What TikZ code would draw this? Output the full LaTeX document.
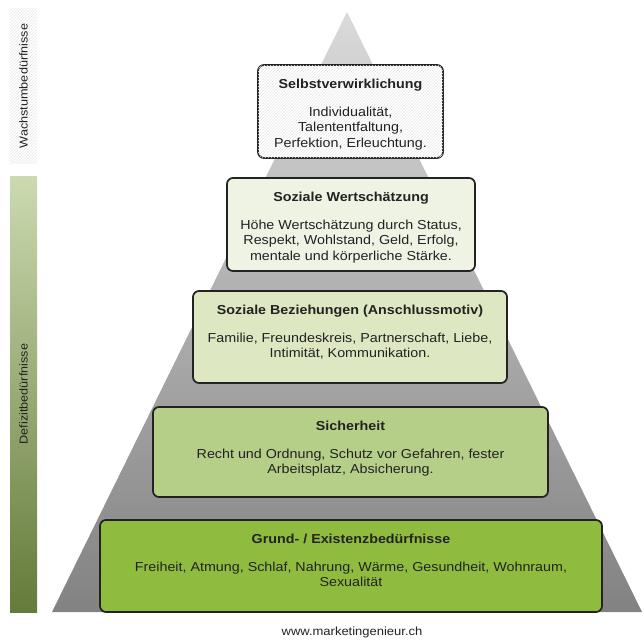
\documentclass[tikz,border=0pt]{standalone}
\usepackage{fontspec}
\setmainfont{Liberation Sans}[FakeStretch=1.1]
\usepackage{tikz}
\usetikzlibrary{positioning,patterns}
\usepackage{xcolor}
\definecolor{pyrtop}{RGB}{218,218,218}
\definecolor{pyrbot}{RGB}{130,130,130}
\definecolor{grundgreen}{RGB}{143,188,62}
\definecolor{sichergreen}{RGB}{182,207,136}
\definecolor{sozialgreen}{RGB}{221,232,194}
\definecolor{wertgreen}{RGB}{239,243,228}
\definecolor{bartop}{RGB}{204,218,176}
\definecolor{barbot}{RGB}{100,123,58}
\definecolor{inkgray}{RGB}{34,34,34}

\begin{document}
\begin{tikzpicture}[x=1pt, y=-1pt,
    needbox/.style={draw=inkgray, line width=1.7pt, rounded corners=6pt},
    needtext/.style={inner sep=0pt, align=center, text=inkgray,
        font=\fontsize{13}{15.5}\selectfont},
    hatched/.style={fill=white, postaction={pattern=north east lines, pattern color=gray!18}},
    barlabel/.style={rotate=90, text=inkgray, font=\fontsize{11.5}{12}\selectfont}]
\useasboundingbox (0,0) rectangle (644,642);

% Pyramid in the background
\shade[top color=pyrtop, bottom color=pyrbot] (52,612) -- (347,12) -- (642,612) -- cycle;

% Side bars
\node[hatched, minimum width=27pt, minimum height=155pt, inner sep=0pt] (wachsbar) at (23.5,86) {};
\node[barlabel] (wachslabel) at (wachsbar.center) {Wachstumbedürfnisse};
\shade[top color=bartop, bottom color=barbot] (10,176) rectangle (37,612);
\coordinate (defizitmid) at (23.5,394);
\node[barlabel] (defizitlabel) at (defizitmid) {Defizitbedürfnisse};

% Levels of the pyramid
\node[needbox, hatched, minimum width=185pt, minimum height=93pt] (selbst) at (350.5,111.5) {};
\node[needtext, below=15pt of selbst.north] (selbsttext)
    {\textbf{Selbstverwirklichung}\\[12pt] Individualität,\\ Talententfaltung,\\ Perfektion, Erleuchtung.};

\node[needbox, fill=wertgreen, minimum width=248pt, minimum height=93pt] (wert) at (351,224.5) {};
\node[needtext, below=15pt of wert.north] (werttext)
    {\textbf{Soziale Wertschätzung}\\[12pt] Höhe Wertschätzung durch Status,\\ Respekt, Wohlstand, Geld, Erfolg,\\ mentale und körperliche Stärke.};

\node[needbox, fill=sozialgreen, minimum width=314pt, minimum height=92pt] (sozial) at (350,337) {};
\node[needtext, below=15pt of sozial.north] (sozialtext)
    {\textbf{Soziale Beziehungen (Anschlussmotiv)}\\[12pt] Familie, Freundeskreis, Partnerschaft, Liebe,\\ Intimität, Kommunikation.};

\node[needbox, fill=sichergreen, minimum width=395pt, minimum height=90pt] (sicher) at (350.5,452) {};
\node[needtext, below=15pt of sicher.north] (sichertext)
    {\textbf{Sicherheit}\\[12pt] Recht und Ordnung, Schutz vor Gefahren, fester\\ Arbeitsplatz, Absicherung.};

\node[needbox, fill=grundgreen, minimum width=502pt, minimum height=92pt] (grund) at (351,566) {};
\node[needtext, below=15pt of grund.north] (grundtext)
    {\textbf{Grund- / Existenzbedürfnisse}\\[12pt] Freiheit, Atmung, Schlaf, Nahrung, Wärme, Gesundheit, Wohnraum,\\ Sexualität};

% Source line
\node[text=inkgray, font=\fontsize{11.8}{12}\selectfont] (quelle) at (352,632) {www.marketingenieur.ch};
\end{tikzpicture}
\end{document}
